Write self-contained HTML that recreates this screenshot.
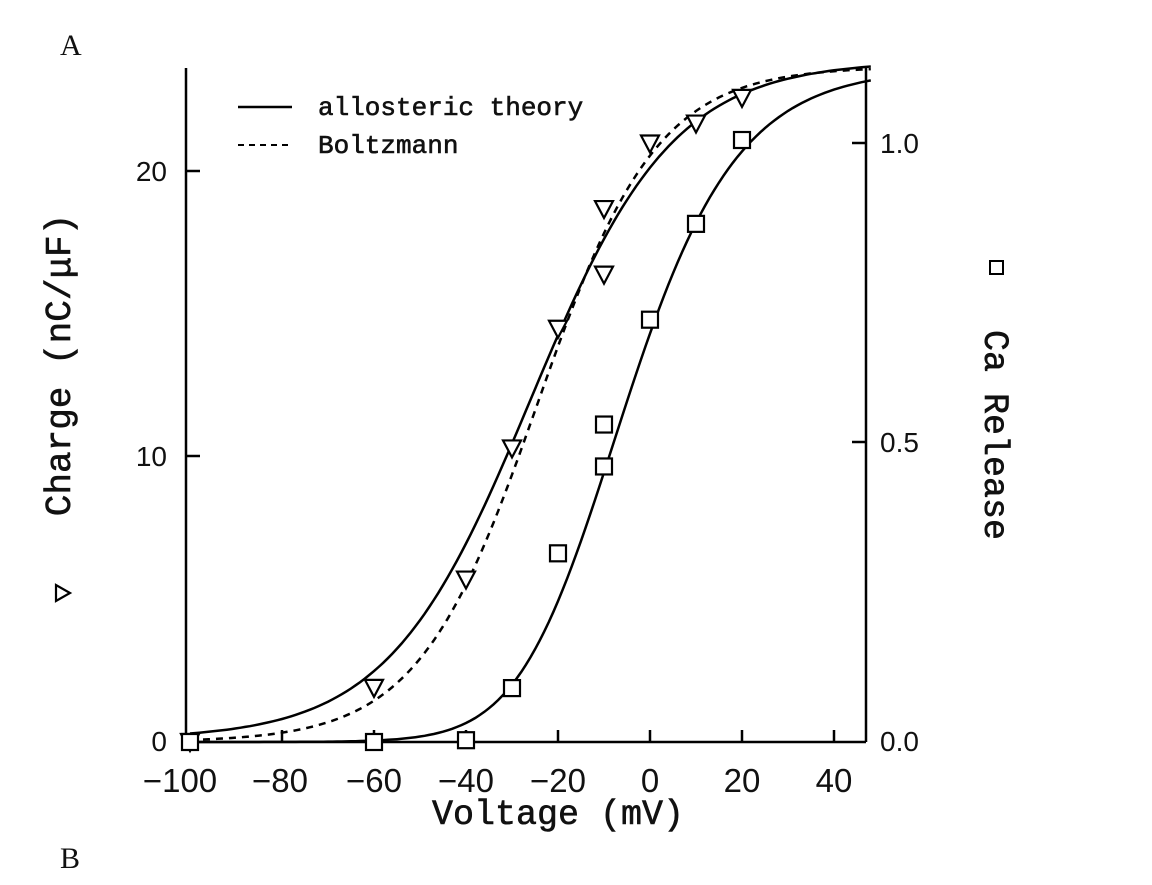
<!DOCTYPE html>
<html><head><meta charset="utf-8"><style>
html,body{margin:0;padding:0;background:#fff;}
svg{display:block}
.t{font-family:"Liberation Sans",sans-serif;font-size:28px;fill:#111}
.m{font-family:"Liberation Mono",monospace;fill:#111;stroke:#111;stroke-width:0.6}
</style></head><body>
<svg id="s" width="1152" height="885" viewBox="0 0 1152 885" xmlns="http://www.w3.org/2000/svg">
<text x="60" y="55" font-family="Liberation Serif,serif" font-size="30" fill="#111">A</text>
<text x="60" y="868" font-family="Liberation Serif,serif" font-size="30" fill="#111">B</text>
<g stroke="#000" stroke-width="2.5" fill="none">
<line x1="186" y1="68" x2="186" y2="742"/>
<line x1="866" y1="68" x2="866" y2="742"/>
<line x1="186" y1="742" x2="866" y2="742"/>
<line x1="186" y1="456" x2="200" y2="456"/>
<line x1="186" y1="171" x2="200" y2="171"/>
<line x1="866" y1="442" x2="852" y2="442"/>
<line x1="866" y1="143" x2="852" y2="143"/>
<line x1="282" y1="742" x2="282" y2="730"/>
<line x1="374" y1="742" x2="374" y2="730"/>
<line x1="466" y1="742" x2="466" y2="730"/>
<line x1="558" y1="742" x2="558" y2="730"/>
<line x1="650" y1="742" x2="650" y2="730"/>
<line x1="742" y1="742" x2="742" y2="730"/>
<line x1="834" y1="742" x2="834" y2="730"/>
<line x1="238" y1="107" x2="292" y2="107"/>
<line x1="238" y1="145" x2="292" y2="145" stroke-dasharray="6,5" stroke-width="2"/>
</g>
<text class="m" x="318" y="115" font-size="26">allosteric theory</text>
<text class="m" x="318" y="153" font-size="26">Boltzmann</text>
<text class="t" x="167" y="751" text-anchor="end">0</text>
<text class="t" x="167" y="466" text-anchor="end">10</text>
<text class="t" x="167" y="181" text-anchor="end">20</text>
<text class="t" x="880" y="751">0.0</text>
<text class="t" x="880" y="452">0.5</text>
<text class="t" x="880" y="153">1.0</text>
<g class="t" text-anchor="middle" style="font-size:33px">
<text x="180" y="792">−100</text><text x="280" y="792">−80</text><text x="374" y="792">−60</text>
<text x="466" y="792">−40</text><text x="558" y="792">−20</text><text x="650" y="792">0</text>
<text x="742" y="792">20</text><text x="834" y="792">40</text>
</g>
<text class="m" x="558" y="824" font-size="35" text-anchor="middle">Voltage (mV)</text>
<text class="m" font-size="36" text-anchor="middle" transform="translate(70,365) rotate(-90)">Charge (nC/μF)</text>
<path d="M56,585 L56,601 L70,593 Z" fill="none" stroke="#000" stroke-width="2.2"/>
<text class="m" font-size="35" text-anchor="middle" transform="translate(985,435) rotate(90)">Ca Release</text>
<rect x="990" y="261" width="13" height="13" fill="none" stroke="#000" stroke-width="2"/>
<g id="g"></g>
</svg>
<script>
var X=v=>650+4.6*v, YQ=q=>742-28.5*q, YC=c=>742-599*c;
function path(f,Y,dash){var d="";for(var v=-100;v<=48.01;v+=1){d+=(v==-100?"M":"L")+X(v).toFixed(1)+","+Y(f(v)).toFixed(1);}
return '<path d="'+d+'" fill="none" stroke="#000" stroke-width="2.5"'+(dash?' stroke-dasharray="7,6"':'')+'/>';}
var s="";
s+=path(v=>23.8/(1+Math.exp(-(v+26)/15.5))+0.1,YQ,false);
s+=path(v=>23.7/(1+Math.exp(-(v+24.5)/13)),YQ,true);
s+=path(v=>{var b=1/(1+Math.exp(-(v+17.6)/14));return 1.125*b*b;},YC,false);
var tri=[[-100,0],[-60,1.9],[-40,5.7],[-30,10.3],[-20,14.5],[-10,16.4],[-10,18.7],[0,21],[10,21.7],[20,22.6]];
tri.forEach(p=>{var x=X(p[0]),y=YQ(p[1]);s+='<path d="M'+(x-9)+','+(y-8)+'L'+(x+9)+','+(y-8)+'L'+x+','+(y+9)+'Z" fill="#fff" stroke="#000" stroke-width="2.2"/>';});
var sq=[[-100,0],[-60,0],[-40,0.003],[-30,0.09],[-20,0.315],[-10,0.46],[-10,0.53],[0,0.705],[10,0.865],[20,1.005]];
sq.forEach(p=>{var x=X(p[0]),y=YC(p[1]);s+='<rect x="'+(x-8)+'" y="'+(y-8)+'" width="16" height="16" fill="#fff" stroke="#000" stroke-width="2.2"/>';});
document.getElementById("g").innerHTML=s;
</script>
</body></html>
